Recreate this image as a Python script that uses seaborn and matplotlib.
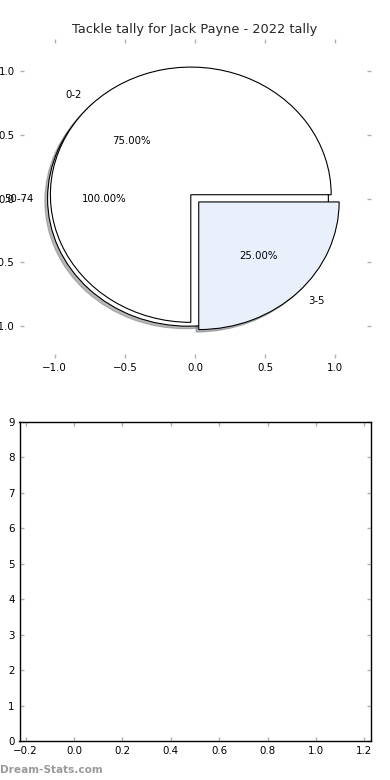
import matplotlib
matplotlib.use("Agg")
import matplotlib.pyplot as plt
import seaborn as sns
import numpy as np

# ---- data ----
title = "Tackle tally for Jack Payne - 2022 tally"
main_labels = ["0-2", "3-5"]
main_values = [75, 25]
main_colors = ["#ffffff", "#e9f0fc"]
main_explode = [0.0, 0.08]

back_labels = ["50-74"]
back_values = [100]
back_colors = ["#ffffff"]

pie_ticks = [-1.0, -0.5, 0.0, 0.5, 1.0]
bottom_xticks = [-0.2, 0.0, 0.2, 0.4, 0.6, 0.8, 1.0, 1.2]
bottom_yticks = list(range(0, 10))

sns.set_theme(style="ticks", rc={
    "xtick.direction": "in", "ytick.direction": "in",
    "xtick.top": True, "ytick.right": True,
    "xtick.color": "#b0b0b0", "ytick.color": "#b0b0b0",
    "xtick.labelcolor": "black", "ytick.labelcolor": "black",
    "xtick.major.size": 3, "ytick.major.size": 3,
    "xtick.major.width": 1, "ytick.major.width": 1,
    "axes.edgecolor": "black", "axes.linewidth": 1.0,
    "xtick.labelsize": 7.4, "ytick.labelsize": 7.4,
})
plt.rcParams["font.family"] = ["DejaVu Sans"]

fig, (ax1, ax2) = plt.subplots(2, 1, figsize=(3.9, 7.8), dpi=100)
fig.subplots_adjust(left=0.05, right=0.95, bottom=0.05, top=0.95, hspace=0.2)

wp = dict(edgecolor="black", linewidth=0.8)
tp = dict(fontsize=7.3, color="black")
shadow = dict(ox=-0.014, oy=-0.014, shade=0.55)

ax1.pie(back_values, labels=back_labels, colors=back_colors, autopct="%1.2f%%",
        shadow=shadow, center=(-0.05, 0.0), wedgeprops=wp, textprops=tp, frame=True)
ax1.pie(main_values, labels=main_labels, colors=main_colors, explode=main_explode,
        autopct="%1.2f%%", shadow=shadow, center=(-0.03, 0.03), wedgeprops=wp,
        textprops=tp, frame=True)
ax1.set_aspect("auto")
ax1.set_xlim(-1.25, 1.25)
ax1.set_ylim(-1.25, 1.25)
ax1.set_xticks(pie_ticks)
ax1.set_yticks(pie_ticks)
ax1.set_xticklabels([f"{t:.1f}".replace("-", "\u2212") for t in pie_ticks])
ax1.set_yticklabels([f"{t:.1f}".replace("-", "\u2212") for t in pie_ticks])
for s in ax1.spines.values():
    s.set_visible(False)
ax1.set_title(title, fontsize=9.3, pad=4)

ax2.set_xlim(-0.225, 1.225)
ax2.set_ylim(0, 9)
ax2.set_xticks(bottom_xticks)
ax2.set_yticks(bottom_yticks)
ax2.set_xticklabels([f"{t:.1f}".replace("-", "\u2212") for t in bottom_xticks])

fig.text(0.0, 0.006, "Dream-Stats.com", fontsize=7.6, fontweight="bold",
         color="#9a9a9a", ha="left", va="bottom")

fig.savefig("out.png", dpi=100, facecolor="white")
